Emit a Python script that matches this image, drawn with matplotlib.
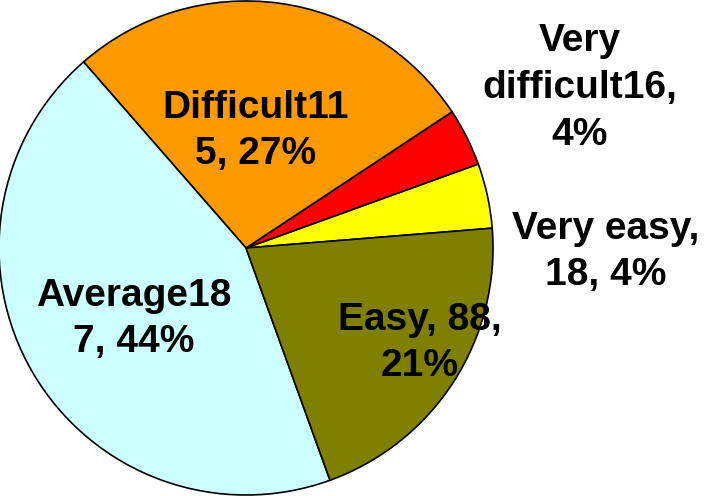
import matplotlib
matplotlib.use('Agg')
from matplotlib import pyplot as plt

# slices in counter-clockwise order, starting just above 3 o'clock
categories = ['Very easy', 'Very difficult', 'Difficult', 'Average', 'Easy']
counts = [18, 16, 115, 187, 88]
colors = ['#FFFF00', '#FF0000', '#FF9900', '#CCFFFF', '#808000']

# label texts as in the original (Excel wrapped them oddly)
label_texts = ['Very easy,\n18, 4%', 'Very\ndifficult16,\n4%', 'Difficult11\n5, 27%',
               'Average18\n7, 44%', 'Easy, 88,\n21%']
# label centres in pie-radius units
label_pos = [(1.457, -0.016), (1.352, 0.648), (0.040, 0.474), (-0.453, -0.287), (0.704, -0.385)]

plt.rcParams['font.family'] = ['Liberation Sans', 'DejaVu Sans']

fig = plt.figure(figsize=(7.1, 4.96), dpi=100)
ax = fig.add_axes([0, 0, 1, 1])

wedges, _ = ax.pie(counts, colors=colors, startangle=4.6, counterclock=True,
                   wedgeprops=dict(edgecolor='black', linewidth=1.2))

for txt, (x, y) in zip(label_texts, label_pos):
    ax.text(x, y, txt, ha='center', va='center', fontsize=28, fontweight='bold',
            linespacing=1.38, multialignment='center')

R = 247.0
ax.set_xlim(-246 / R, (710 - 246) / R)
ax.set_ylim(-248 / R, 248 / R)
ax.axis('off')

fig.savefig('out.png', dpi=100)
